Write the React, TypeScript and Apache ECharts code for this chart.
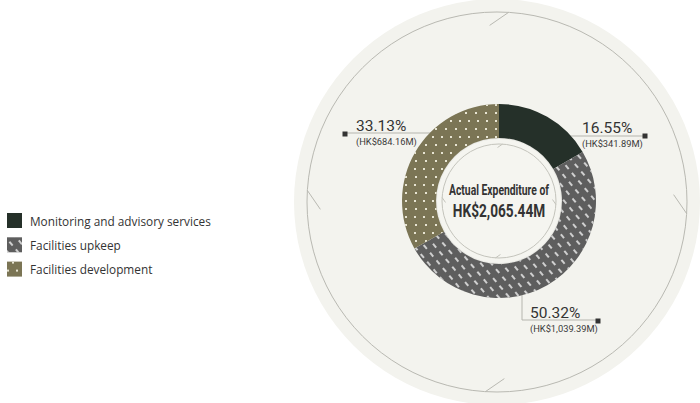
import React, { useEffect, useRef } from "react";
import * as echarts from "echarts";

const categories = ["Monitoring and advisory services", "Facilities upkeep", "Facilities development"];
const percents = [16.55, 50.32, 33.13];
const amounts = ["HK$341.89M", "HK$1,039.39M", "HK$684.16M"];
const totalLabel = ["Actual Expenditure of", "HK$2,065.44M"];

const colors = ["#253029", "#5e5e5e", "#7b7555"];

export default function App() {
  const ref = useRef<HTMLDivElement>(null);
  useEffect(() => {
    document.body.style.margin = "0";
    const chart = echarts.init(ref.current!, null, { renderer: "svg" });
    const cx = 499, cy = 201, R = 97, r = 63;
    const bx = 497, by = 202, BR = 203, ringR = 190;
    const edgeX = (y: number, side: number) => cx + side * Math.sqrt(R * R - (y - cy) * (y - cy)) - side * 2;

    const decals = [
      undefined,
      {
        symbol: "rect",
        symbolSize: 1,
        color: "rgba(255,255,255,0.7)",
        dashArrayX: [[5, 5], [0, 5, 5, 0]],
        dashArrayY: [1.1, 5.5],
        rotation: Math.PI / 3.6,
      },
      {
        symbol: "rect",
        symbolSize: 1,
        color: "rgba(250,248,232,0.85)",
        dashArrayX: [[1.5, 7], [0, 4.25, 1.5, 2.75]],
        dashArrayY: [1.5, 5.5],
        rotation: 0,
      },
    ];

    // label layouts (positions only)
    const labelPos = [
      { x: 582, y: 118, line: () => [[edgeX(136, 1), 136], [610, 136], [645, 136]] },
      { x: 530, y: 303, line: () => [[522, cy + Math.sqrt(R * R - 23 * 23) - 2], [522, 320], [598, 320]] },
      { x: 356, y: 116, line: () => [[edgeX(133, -1), 133], [380, 133], [345, 133]] },
    ];
    const squares = [[645, 136], [598, 321], [345, 134]];

    const graphics: any[] = [];
    graphics.push({ type: "circle", z: -10, shape: { cx: bx, cy: by, r: BR }, style: { fill: "#f3f3ee" } });
    graphics.push({ type: "circle", z: -9, shape: { cx: bx, cy: by, r: ringR }, style: { fill: "none", stroke: "#b9b9b2", lineWidth: 1 } });
    for (let k = 0; k < 4; k++) {
      const th = ((k * 90 + 3.5) * Math.PI) / 180;
      const ox = bx + ringR * Math.cos(th), oy = by + ringR * Math.sin(th);
      const dir = th + Math.PI + (52 * Math.PI) / 180;
      graphics.push({
        type: "line", z: -9,
        shape: { x1: ox, y1: oy, x2: ox + 23 * Math.cos(dir), y2: oy + 23 * Math.sin(dir) },
        style: { stroke: "#b9b9b2", lineWidth: 1 },
      });
    }
    graphics.push({
      type: "circle", z: -8, shape: { cx, cy, r: r - 1 },
      style: { fill: "#f5f5f0", shadowBlur: 4, shadowColor: "rgba(0,0,0,0.18)" },
    });
    graphics.push({ type: "circle", z: -7, shape: { cx, cy, r: 57 }, style: { fill: "none", stroke: "#c4c4bc", lineWidth: 1 } });
    for (let k = 0; k < 4; k++) {
      const th = ((k * 90 + 3.5) * Math.PI) / 180;
      const ox = cx + 57 * Math.cos(th), oy = cy + 57 * Math.sin(th);
      const dir = th + Math.PI + (52 * Math.PI) / 180;
      graphics.push({
        type: "line", z: -7,
        shape: { x1: ox, y1: oy, x2: ox + 6 * Math.cos(dir), y2: oy + 6 * Math.sin(dir) },
        style: { stroke: "#c4c4bc", lineWidth: 1 },
      });
    }
    graphics.push({
      type: "text", x: cx, y: 190, scaleX: 0.74, z: 5,
      style: { text: totalLabel[0], x: 0, y: 0, align: "center", verticalAlign: "middle", fontFamily: "Roboto", fontWeight: "bold", fontSize: 14, fill: "#333" },
    });
    graphics.push({
      type: "text", x: cx, y: 210.5, scaleX: 0.78, z: 5,
      style: { text: totalLabel[1], x: 0, y: 0, align: "center", verticalAlign: "middle", fontFamily: "Roboto", fontWeight: "bold", fontSize: 17.5, fill: "#333" },
    });
    squares.forEach(([sx, sy]) => {
      graphics.push({ type: "rect", z: 10, shape: { x: sx - 2.5, y: sy - 2.5, width: 5, height: 5 }, style: { fill: "#333" } });
    });

    chart.setOption({
      animation: false,
      legend: {
        orient: "vertical",
        left: 2,
        top: 208,
        itemWidth: 15,
        itemHeight: 15,
        itemGap: 9.3,
        icon: "rect",
        textStyle: { fontFamily: "Open Sans", fontSize: 11.8, color: "#333", padding: [0, 0, 0, 3] },
        data: categories,
      },
      graphic: graphics,
      series: [
        {
          type: "pie",
          center: [cx, cy],
          radius: [r, R],
          startAngle: 90,
          clockwise: true,
          silent: true,
          data: categories.map((c, i) => ({
            name: c,
            value: percents[i],
            itemStyle: { color: colors[i], decal: decals[i] },
            label: {
              formatter: `{p|${percents[i].toFixed(2)}%}\n{v|(${amounts[i]})}`,
            },
          })),
          label: {
            show: true,
            position: "outside",
            rich: {
              p: { fontFamily: "Roboto", fontSize: 15.5, color: "#333", lineHeight: 19 },
              v: { fontFamily: "Roboto", fontSize: 9.3, color: "#3a3a3a", lineHeight: 12 },
            },
          },
          labelLine: { show: true, lineStyle: { color: "#b5b5ae", width: 1 } },
          labelLayout: (params: any) => {
            const p = labelPos[params.dataIndex];
            return { x: p.x, y: p.y, align: "left", verticalAlign: "top", labelLinePoints: p.line() };
          },
        },
      ],
    });
    return () => chart.dispose();
  }, []);
  return <div ref={ref} style={{ width: 700, height: 403 }} />;
}
